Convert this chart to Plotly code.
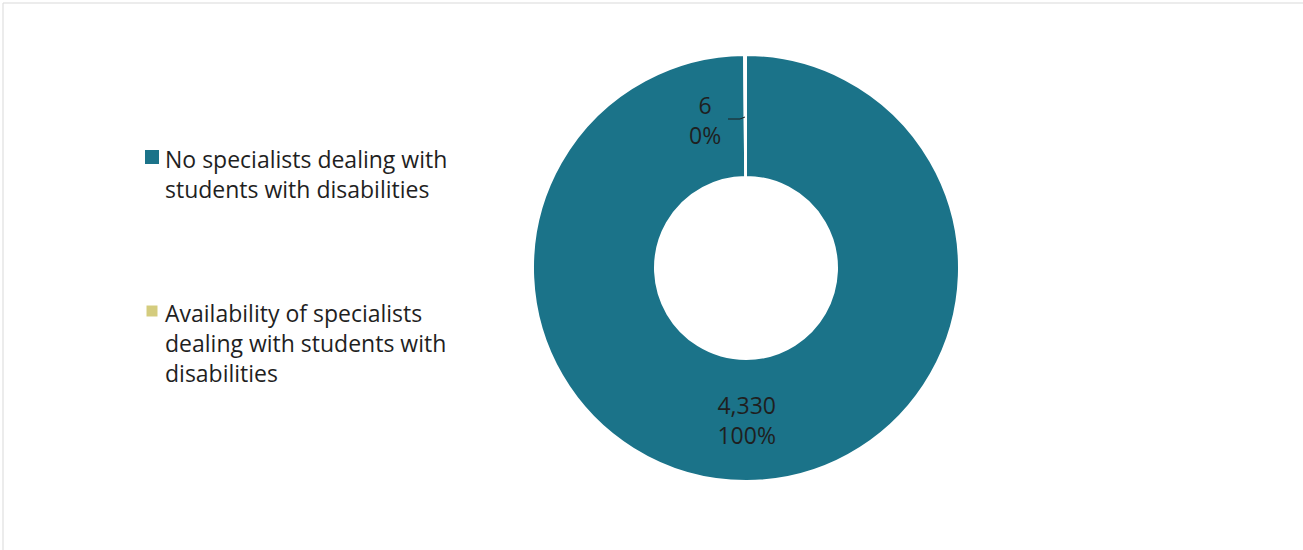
import plotly.graph_objects as go

# Survey results: schools by availability of disability specialists
categories = [
    "No specialists dealing with<br>students with disabilities",
    "Availability of specialists<br>dealing with students with<br>disabilities",
]
counts = [4330, 6]
colors = ["#1B7389", "#D4CC7E"]

W, H = 1303, 550
FONT = "Open Sans"
FONT_SIZE = 23
TEXT_COLOR = "#1f1f1f"

# ring geometry in pixels
cx, cy, r_out, r_in = 746, 268, 213, 91

total = sum(counts)
small_pct = counts[1] / total

fig = go.Figure(
    go.Pie(
        labels=categories,
        values=counts,
        sort=False,
        direction="clockwise",
        rotation=0,
        hole=r_in / r_out,
        marker=dict(colors=colors, line=dict(color="white", width=2)),
        texttemplate=["%{value:,}<br>%{percent:.0%}", ""],
        textposition=["inside", "none"],
        insidetextorientation="horizontal",
        insidetextfont=dict(family=FONT, size=FONT_SIZE, color=TEXT_COLOR),
        showlegend=False,
        hoverinfo="label+value+percent",
        domain=dict(
            x=[(cx - r_out) / W, (cx + r_out) / W],
            y=[1 - (cy + r_out) / H, 1 - (cy - r_out) / H],
        ),
    )
)

annotations = []
shapes = []

# label for the tiny slice, with a short leader line
annotations.append(
    dict(
        x=705 / W, y=1 - 120 / H, xref="paper", yref="paper",
        text=f"{counts[1]:,}<br>{small_pct:.0%}",
        showarrow=False, xanchor="center", yanchor="middle",
        font=dict(family=FONT, size=FONT_SIZE, color=TEXT_COLOR),
    )
)
shapes.append(
    dict(
        type="path", xref="paper", yref="paper",
        path=f"M {728 / W} {1 - 119 / H} L {740 / W} {1 - 119 / H} L {745 / W} {1 - 117 / H}",
        line=dict(color=TEXT_COLOR, width=1),
    )
)

# legend drawn on the left
legend_rows = [157, 311]
square_sizes = [14, 11]
for cat, col, ytop, sz in zip(categories, colors, legend_rows, square_sizes):
    mx = 152
    shapes.append(
        dict(
            type="rect", xref="paper", yref="paper",
            x0=(mx - sz / 2) / W, x1=(mx + sz / 2) / W,
            y0=1 - (ytop + sz / 2) / H, y1=1 - (ytop - sz / 2) / H,
            fillcolor=col, line=dict(width=0),
        )
    )
    annotations.append(
        dict(
            x=163 / W, y=1 - (ytop - 16) / H, xref="paper", yref="paper",
            text=cat, showarrow=False, xanchor="left", yanchor="top", align="left",
            font=dict(family=FONT, size=FONT_SIZE, color=TEXT_COLOR),
        )
    )

# chart area frame
shapes.append(dict(type="line", xref="paper", yref="paper",
                   x0=3 / W, x1=1, y0=1 - 3 / H, y1=1 - 3 / H,
                   line=dict(color="#D9D9D9", width=1)))
shapes.append(dict(type="line", xref="paper", yref="paper",
                   x0=3 / W, x1=3 / W, y0=0, y1=1 - 3 / H,
                   line=dict(color="#D9D9D9", width=1)))

fig.update_layout(
    width=W, height=H,
    margin=dict(l=0, r=0, t=0, b=0),
    paper_bgcolor="white",
    plot_bgcolor="white",
    annotations=annotations,
    shapes=shapes,
    font=dict(family=FONT, color=TEXT_COLOR),
)

fig.write_html("out.html")
